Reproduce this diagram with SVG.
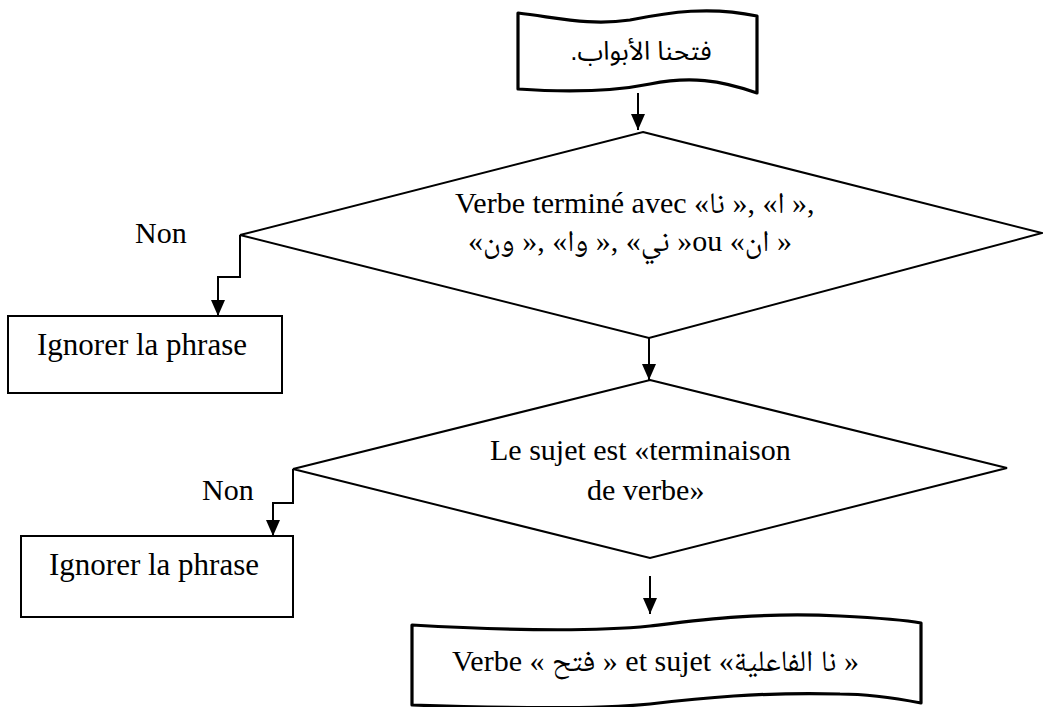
<svg xmlns="http://www.w3.org/2000/svg" width="1043" height="707" viewBox="0 0 1043 707">
  <style>
    .shape { fill: #ffffff; stroke: #000000; stroke-width: 2; stroke-linejoin: miter; }
    .doc { fill: #ffffff; stroke: #000000; stroke-width: 3.2; stroke-linejoin: round; }
    .link { fill: none; stroke: #000000; stroke-width: 2; }
    .serif { font-family: "Liberation Serif", "Noto Naskh Arabic", "Noto Serif Arabic", "DejaVu Sans", serif; fill: #000000; }
    .sans { font-family: "Liberation Sans", "Noto Sans Arabic", "DejaVu Sans", sans-serif; fill: #000000; }
  </style>
  <defs>
    <marker id="head" viewBox="0 0 16 14" refX="16" refY="7" markerWidth="16" markerHeight="14" markerUnits="userSpaceOnUse" orient="auto">
      <path d="M0,0 L16,7 L0,14 Z" fill="#000000"/>
    </marker>
  </defs>

  <!-- start: sentence on a punched-tape shape -->
  <g id="start">
    <path class="doc" d="M518,13 C560,18 590,26 630,20 C670,12 710,6 757,16 L757,93 C720,80 690,76 650,84 C610,92 560,92 518,89 Z"/>
    <text class="sans" x="641" y="60" font-size="26" text-anchor="middle" direction="rtl">فتحنا الأبواب.</text>
  </g>

  <!-- first test: verb ending -->
  <g id="test-ending">
    <polygon class="shape" points="643,132 1042,233 649,338 240,235"/>
    <text class="serif" x="455" y="213" font-size="30">Verbe terminé avec «نا&#x200E; », «ا&#x200E; »,</text>
    <text class="serif" x="468" y="251" font-size="30">«ون&#x200E; », «وا&#x200E; », «ني&#x200E; »ou «ان&#x200E; »</text>
  </g>

  <g id="ignore-1">
    <rect class="shape" x="8" y="316" width="274" height="77"/>
    <text class="serif" x="37" y="355" font-size="31">Ignorer la phrase</text>
  </g>

  <!-- second test: subject -->
  <g id="test-subject">
    <polygon class="shape" points="650,380 1007,468 650,558 293,469"/>
    <text class="serif" x="490" y="460" font-size="30">Le sujet est «terminaison</text>
    <text class="serif" x="587" y="500" font-size="30">de verbe»</text>
  </g>

  <g id="ignore-2">
    <rect class="shape" x="21" y="536" width="272" height="81"/>
    <text class="serif" x="49" y="575" font-size="31">Ignorer la phrase</text>
  </g>

  <!-- result: verb and subject -->
  <g id="result">
    <path class="doc" d="M412,625 C500,630 590,632 650,626 C700,620 760,612 840,616 C880,618 905,620 921,623 L921,703 C900,699 870,694 840,694 C760,692 700,698 650,704 C590,710 500,708 412,705 Z"/>
    <text class="serif" x="452" y="671" font-size="30">Verbe « فتح » et sujet «نا   الفاعلية »</text>
  </g>

  <!-- connectors -->
  <g id="connectors">
    <path class="link" d="M638,93 V130" marker-end="url(#head)"/>
    <path class="link" d="M649,338 V380" marker-end="url(#head)"/>
    <path class="link" d="M240,235 V277 H218 V316" marker-end="url(#head)"/>
    <path class="link" d="M293,469 V503 H273 V536" marker-end="url(#head)"/>
    <path class="link" d="M650,576 V614" marker-end="url(#head)"/>
    <text class="serif" x="135" y="243" font-size="30">Non</text>
    <text class="serif" x="202" y="500" font-size="30">Non</text>
  </g>
</svg>
